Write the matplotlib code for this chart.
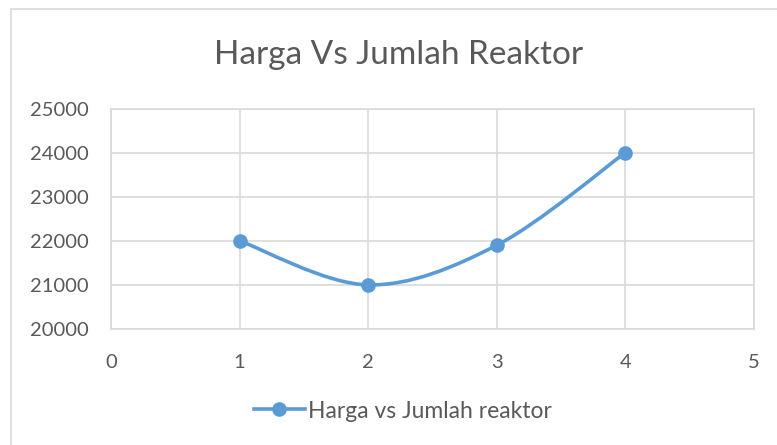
import matplotlib.pyplot as plt
from matplotlib.path import Path
from matplotlib.patches import PathPatch, Rectangle
from matplotlib.lines import Line2D

# data
jumlah_reaktor = [1, 2, 3, 4]
harga = [22000, 21000, 21900, 24000]
x_ticks = [0, 1, 2, 3, 4, 5]
y_ticks = [20000, 21000, 22000, 23000, 24000, 25000]

blue = "#5B9BD5"
grey_txt = "#595959"
grid_c = "#D9D9D9"

plt.rcParams["font.family"] = ["Lato", "DejaVu Sans"]

fig = plt.figure(figsize=(7.77, 4.45), dpi=100)
# chart border like excel
fig.patches.append(Rectangle((11 / 777, -0.1), 1.1, 1 - 9 / 445 + 0.1,
                             transform=fig.transFigure, fill=False,
                             edgecolor=grid_c, linewidth=1.2))

ax = fig.add_axes([111 / 777, 1 - 329 / 445, 643 / 777, 220.5 / 445])
ax.set_xlim(0, 5)
ax.set_ylim(20000, 25000)
ax.set_xticks(x_ticks)
ax.set_yticks(y_ticks)
ax.grid(True, color=grid_c, linewidth=1.2)
ax.set_axisbelow(True)
for s in ax.spines.values():
    s.set_color(grid_c)
    s.set_linewidth(1.2)
ax.tick_params(length=0, labelsize=14.5, colors=grey_txt)
ax.tick_params(axis="x", pad=18)
ax.tick_params(axis="y", pad=16)

# smoothed line (catmull-rom style bezier, like excel's smooth line)
n = len(jumlah_reaktor)
verts = [(jumlah_reaktor[0], harga[0])]
codes = [Path.MOVETO]
for i in range(n - 1):
    p0 = (jumlah_reaktor[max(i - 1, 0)], harga[max(i - 1, 0)])
    p1 = (jumlah_reaktor[i], harga[i])
    p2 = (jumlah_reaktor[i + 1], harga[i + 1])
    p3 = (jumlah_reaktor[min(i + 2, n - 1)], harga[min(i + 2, n - 1)])
    c1 = (p1[0] + (p2[0] - p0[0]) / 6, p1[1] + (p2[1] - p0[1]) / 6)
    c2 = (p2[0] - (p3[0] - p1[0]) / 6, p2[1] - (p3[1] - p1[1]) / 6)
    verts += [c1, c2, p2]
    codes += [Path.CURVE4] * 3
ax.add_patch(PathPatch(Path(verts, codes), fill=False, edgecolor=blue,
                       linewidth=2.6, capstyle="round", zorder=3))
ax.plot(jumlah_reaktor, harga, linestyle="none", marker="o", markersize=9.5,
        color=blue, zorder=4)

fig.text(399 / 777, 1 - 55 / 445, "Harga Vs Jumlah Reaktor", fontsize=24,
         color=grey_txt, ha="center", va="center")

handle = Line2D([], [], color=blue, linewidth=2.6, marker="o", markersize=9.5)
leg = fig.legend([handle], ["Harga vs Jumlah reaktor"], loc="center",
                 bbox_to_anchor=(403 / 777, 1 - 411 / 445), frameon=False,
                 fontsize=16.5, handlelength=2.2, handletextpad=0.15)
for t in leg.get_texts():
    t.set_color(grey_txt)

plt.savefig("out.png", dpi=100)
